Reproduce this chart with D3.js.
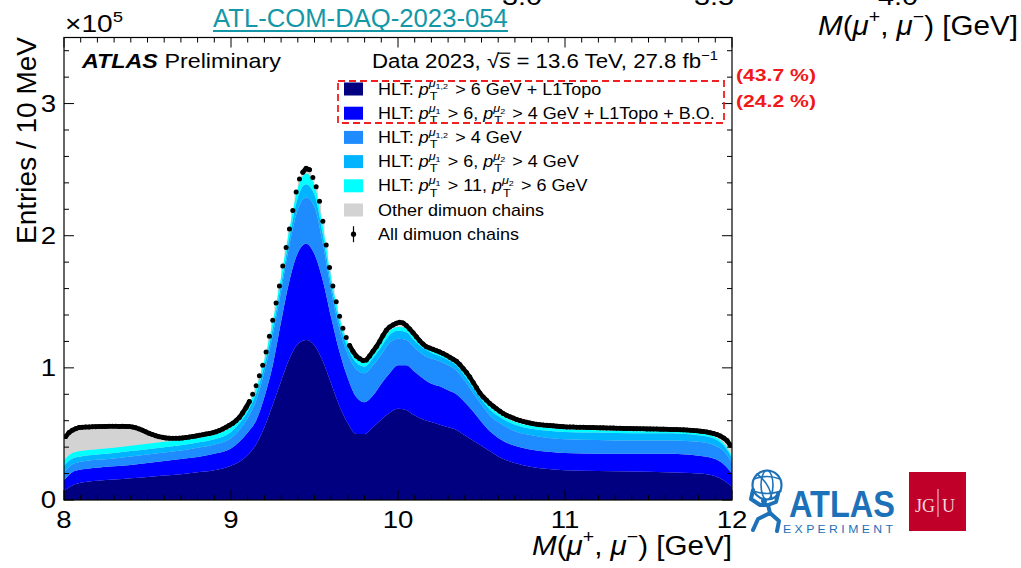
<!DOCTYPE html>
<html lang="en">
<head>
<meta charset="UTF-8">
<title>Dimuon invariant mass, HLT chains</title>
<script src="https://cdn.jsdelivr.net/npm/d3@7"></script>
<style>
  body { margin: 0; background: #fff; }
  svg { display: block; }
</style>
</head>
<body>
<div id="chart"></div>
<script>
// mass points for the stacked chains (GeV)
const massGrid = [8.0, 8.05, 8.1, 8.2, 8.3, 8.4, 8.5, 8.6, 8.7, 8.8, 8.9, 9.0, 9.05, 9.1, 9.15, 9.2, 9.25, 9.3, 9.35, 9.4,
  9.45, 9.5, 9.55, 9.6, 9.65, 9.7, 9.75, 9.8, 9.85, 9.9, 9.95, 10.0, 10.05, 10.1, 10.15, 10.2, 10.25, 10.3, 10.35, 10.4,
  10.45, 10.5, 10.55, 10.6, 10.7, 10.8, 10.9, 11.0, 11.2, 11.4, 11.6, 11.8, 11.9, 11.95, 12.0];

// entries per 10 MeV, in units of 1e5
const hltDi6L1Topo = [.07, .11, .13, .145, .155, .165, .175, .185, .195, .21, .225, .26, .29, .34, .42, .55, .72, .90, 1.07, 1.18,
  1.21, 1.17, 1.05, .88, .71, .58, .50, .50, .55, .61, .66, .69, .68, .64, .61, .59, .57, .55, .53, .49,
  .45, .41, .37, .33, .28, .25, .235, .225, .22, .215, .21, .20, .18, .15, .10];
const hltMu6Mu4L1TopoBO = [.08, .10, .10, .10, .10, .10, .105, .11, .115, .115, .125, .13, .15, .17, .18, .23, .30, .45, .59, .69,
  .73, .69, .61, .50, .41, .34, .28, .24, .24, .27, .30, .33, .34, .33, .31, .29, .29, .28, .27, .25,
  .22, .18, .15, .14, .13, .13, .13, .13, .13, .135, .14, .135, .13, .12, .10];
const hltDi4 = [.06, .06, .06, .06, .06, .065, .065, .065, .065, .07, .07, .08, .09, .11, .15, .19, .23, .23, .27, .33,
  .35, .36, .28, .20, .17, .18, .21, .22, .23, .22, .23, .20, .19, .18, .18, .19, .19, .19, .18, .16,
  .14, .13, .12, .12, .11, .11, .105, .105, .105, .10, .10, .105, .10, .10, .08];
const hltMu6Mu4 = [.05, .045, .04, .04, .04, .04, .04, .04, .04, .04, .04, .045, .05, .05, .055, .05, .05, .05, .06, .09,
  .10, .09, .07, .05, .05, .05, .05, .05, .055, .06, .06, .06, .06, .055, .05, .045, .04, .04, .04, .04,
  .04, .04, .045, .045, .05, .05, .055, .055, .055, .055, .055, .05, .05, .045, .04];
const hltMu11Mu6 = [.04, .04, .04, .04, .04, .04, .04, .04, .04, .035, .035, .035, .035, .035, .04, .04, .05, .06, .06, .07,
  .08, .07, .06, .05, .04, .035, .03, .03, .03, .03, .03, .03, .03, .03, .025, .025, .025, .025, .025, .025,
  .025, .025, .02, .02, .02, .02, .02, .02, .018, .016, .015, .015, .015, .015, .015];

// all dimuon chains, bins from 8.0 GeV, 20 MeV apart (units of 1e5)
const binStart = 8.0, binWidth = 0.02;
const allDimuon = [
  .48, .51, .528, .54, .548, .55, .552, .553, .554, .555,
  .556, .556, .557, .558, .558, .558, .557, .558, .557, .556,
  .552, .546, .538, .528, .516, .505, .495, .486, .479, .474,
  .47, .468, .467, .467, .468, .47, .473, .476, .48, .485,
  .49, .494, .499, .504, .509, .516, .526, .537, .55, .565,
  .58, .60, .625, .66, .70, .745, .80, .865, .94, 1.02,
  1.12, 1.24, 1.36, 1.49, 1.62, 1.77, 1.91, 2.05, 2.19, 2.33,
  2.43, 2.48, 2.51, 2.50, 2.44, 2.37, 2.26, 2.11, 1.93, 1.76,
  1.62, 1.50, 1.39, 1.30, 1.23, 1.17, 1.125, 1.09, 1.07, 1.055,
  1.06, 1.09, 1.125, 1.16, 1.20, 1.245, 1.285, 1.31, 1.325, 1.338,
  1.345, 1.34, 1.32, 1.295, 1.265, 1.235, 1.205, 1.18, 1.16, 1.15,
  1.14, 1.13, 1.12, 1.108, 1.095, 1.08, 1.065, 1.05, 1.025, .995,
  .965, .93, .89, .85, .81, .78, .755, .73, .71, .69,
  .672, .655, .641, .63, .62, .61, .602, .595, .588, .582,
  .577, .573, .57, .567, .565, .563, .561, .559, .557, .555,
  .553, .553, .552, .551, .551, .55, .549, .549, .548, .547,
  .546, .546, .545, .545, .544, .543, .543, .542, .541, .541,
  .54, .54, .539, .539, .538, .538, .537, .537, .536, .536,
  .535, .534, .534, .533, .532, .531, .53, .528, .526, .524,
  .521, .518, .514, .509, .503, .495, .485, .47, .45, .415];

const xTicks = [8, 9, 10, 11, 12];
const yTicks = [0, 1, 2, 3];
const chainKeys = ["di6L1Topo", "mu6mu4BO", "di4", "mu6mu4", "mu11mu6"];
const chainColors = ["#000080", "#0000ff", "#1e8cff", "#00b4ff", "#00ffff"];
const otherColor = "#d3d3d3";
const shareLabels = ["(43.7 %)", "(24.2 %)"];

const W = 1021, H = 568;
const font = '"Liberation Sans", Arial, Helvetica, sans-serif';
const svg = d3.select("#chart").append("svg")
  .attr("width", W).attr("height", H)
  .style("font-family", font);
svg.append("rect").attr("width", W).attr("height", H).attr("fill", "#fff");

const frame = { left: 64, right: 732, top: 37.5, bottom: 500 };
const x = d3.scaleLinear().domain([8, 12]).range([frame.left, frame.right]);
const y = d3.scaleLinear().domain([0, 3.5]).range([frame.bottom, frame.top]);

// rich text: pieces laid out one after another, then squeezed/stretched in x
function richText(parent, parts, size) {
  let cx = 0;
  const put = (str, px, py, fs, it, bold) => {
    const t = parent.append("text").attr("x", px).attr("y", py)
      .attr("font-size", fs).style("white-space", "pre").text(str);
    if (it) t.attr("font-style", "italic");
    if (bold) t.attr("font-weight", "bold");
    return t.node().getComputedTextLength();
  };
  parts.forEach(p => {
    if (typeof p === "string") p = { t: p };
    if (p.pt) {
      cx += put("p", cx, 0, size, true);
      const wT = put("T", cx + 1, size * 0.33, size * 0.7);
      const wMu = put("μ", cx, -size * 0.45, size * 0.7, true);
      const wIdx = put(p.pt, cx + wMu, -size * 0.32, size * 0.5);
      cx += Math.max(wT + 1, wMu + wIdx) + size * 0.12;
    } else if (p.sup) {
      cx += put(p.t, cx, -size * 0.42, size * 0.66, p.it);
    } else {
      const w = put(p.t, cx, 0, size, p.it, p.b);
      if (p.over) {
        parent.append("line").attr("x1", cx - size * 0.05).attr("x2", cx + w)
          .attr("y1", -size * 0.74).attr("y2", -size * 0.74)
          .attr("stroke", "#000").attr("stroke-width", size * 0.06);
      }
      cx += w;
    }
  });
  return cx;
}

function placeRich(px, py, parts, o) {
  const outer = svg.append("g").attr("fill", o.fill || "#000");
  const inner = outer.append("g");
  const w = richText(inner, parts, o.size);
  const sx = o.width ? o.width / w : (o.sx || 1);
  const x0 = o.anchor === "end" ? px - w * sx : o.anchor === "middle" ? px - w * sx / 2 : px;
  outer.attr("transform", `translate(${x0},${py})`);
  inner.attr("transform", `scale(${sx},1)`);
  return sx;
}

// ---- plot contents ----
const plot = svg.append("g");
plot.append("clipPath").attr("id", "frameClip").append("rect")
  .attr("x", frame.left).attr("y", frame.top)
  .attr("width", frame.right - frame.left).attr("height", frame.bottom - frame.top);
const inside = plot.append("g").attr("clip-path", "url(#frameClip)");

// other chains: everything under the full data histogram, colours go on top
const histPts = allDimuon.flatMap((v, i) => {
  const lo = binStart + i * binWidth;
  return [[lo, v], [lo + binWidth, v]];
});
inside.append("path")
  .attr("d", d3.area().x(d => x(d[0])).y0(y(0)).y1(d => y(d[1]))(histPts))
  .attr("fill", otherColor);

const rows = massGrid.map((m, i) => ({
  m,
  di6L1Topo: hltDi6L1Topo[i],
  mu6mu4BO: hltMu6Mu4L1TopoBO[i],
  di4: hltDi4[i],
  mu6mu4: hltMu6Mu4[i],
  mu11mu6: hltMu11Mu6[i]
}));
const stacked = d3.stack().keys(chainKeys)(rows);
const area = d3.area()
  .x(d => x(d.data.m)).y0(d => y(d[0])).y1(d => y(d[1]))
  .curve(d3.curveMonotoneX);
inside.selectAll(".layer").data(stacked).enter().append("path")
  .attr("class", "layer")
  .attr("d", area)
  .attr("fill", (d, i) => chainColors[i]);

// data markers: where neighbouring markers touch they merge into a thick line
const pts = allDimuon.map((v, i) => [x(binStart + (i + 0.5) * binWidth), y(v)]);
let merged = "";
pts.forEach((p, i) => {
  if (i === 0) return;
  const q = pts[i - 1];
  if (Math.hypot(p[0] - q[0], p[1] - q[1]) < 7) merged += `M${q[0]},${q[1]}L${p[0]},${p[1]}`;
});
inside.append("path").attr("d", merged)
  .attr("stroke", "#000").attr("stroke-width", 4.6).attr("stroke-linecap", "round").attr("fill", "none");
inside.selectAll(".pt").data(pts).enter().append("circle")
  .attr("class", "pt")
  .attr("cx", d => d[0])
  .attr("cy", d => d[1])
  .attr("r", 2.5)
  .attr("fill", "#000");

// ---- frame and ticks ----
const ticks = svg.append("g").attr("stroke", "#000").attr("stroke-width", 1);
d3.range(80, 121).forEach(k => {
  const v = k / 10, len = k % 10 === 0 ? 10 : 5;
  ticks.append("line").attr("x1", x(v)).attr("x2", x(v)).attr("y1", frame.bottom).attr("y2", frame.bottom - len);
  ticks.append("line").attr("x1", x(v)).attr("x2", x(v)).attr("y1", frame.top).attr("y2", frame.top + len);
});
d3.range(0, 18).forEach(k => {
  const v = k / 5, len = k % 5 === 0 ? 10 : 5;
  ticks.append("line").attr("x1", frame.left).attr("x2", frame.left + len).attr("y1", y(v)).attr("y2", y(v));
  ticks.append("line").attr("x1", frame.right).attr("x2", frame.right - len).attr("y1", y(v)).attr("y2", y(v));
});
svg.append("rect")
  .attr("x", frame.left).attr("y", frame.top)
  .attr("width", frame.right - frame.left).attr("height", frame.bottom - frame.top)
  .attr("fill", "none").attr("stroke", "#000").attr("stroke-width", 1.2);

xTicks.forEach(v => placeRich(x(v), 528, [String(v)], { size: 23, sx: 1.2, anchor: "middle" }));
yTicks.forEach(v => placeRich(56, y(v) + 8.3, [String(v)], { size: 23, sx: 1.2, anchor: "end" }));
placeRich(65, 32, ["×10", { t: "5", sup: true }], { size: 23, width: 58 });

const mu = [{ t: "M", it: true }, "(", { t: "μ", it: true }, { t: "+", sup: true }, ", ",
  { t: "μ", it: true }, { t: "−", sup: true }, ") [GeV]"];
placeRich(732, 555, mu, { size: 28, width: 200, anchor: "end" });

svg.append("text")
  .attr("transform", "translate(36,37) rotate(-90)")
  .attr("text-anchor", "end").attr("font-size", 28)
  .text("Entries / 10 MeV");

// ---- labels inside frame ----
placeRich(82, 68, [{ t: "ATLAS", it: true, b: true }, " Preliminary"], { size: 20, width: 199 });
placeRich(372, 68, ["Data 2023, ", "√", { t: "s", it: true, over: true }, " = 13.6 TeV, 27.8 fb", { t: "−1", sup: true }],
  { size: 20, width: 346 });

// ---- legend ----
const legendParts = [
  ["HLT: ", { pt: "1,2" }, " > 6 GeV + L1Topo"],
  ["HLT: ", { pt: "1" }, " > 6, ", { pt: "2" }, " > 4 GeV + L1Topo + B.O."],
  ["HLT: ", { pt: "1,2" }, " > 4 GeV"],
  ["HLT: ", { pt: "1" }, " > 6, ", { pt: "2" }, " > 4 GeV"],
  ["HLT: ", { pt: "1" }, " > 11, ", { pt: "2" }, " > 6 GeV"],
  ["Other dimuon chains"],
  ["All dimuon chains"]
];
const legendFills = chainColors.concat([otherColor, null]);
const rowY = i => 89 + i * 24.2;
const legSx = placeRich(378, rowY(5) + 5.6, legendParts[5], { size: 16, width: 166 });
legendParts.forEach((parts, i) => {
  if (i !== 5) placeRich(378, rowY(i) + 5.6, parts, { size: 16, sx: legSx });
  if (legendFills[i]) {
    svg.append("rect").attr("x", 344).attr("y", rowY(i) - 6.5).attr("width", 19).attr("height", 13)
      .attr("fill", legendFills[i]);
  } else {
    svg.append("line").attr("x1", 353.5).attr("x2", 353.5).attr("y1", rowY(i) - 8).attr("y2", rowY(i) + 8)
      .attr("stroke", "#000").attr("stroke-width", 1.2);
    svg.append("circle").attr("cx", 353.5).attr("cy", rowY(i)).attr("r", 2.6).attr("fill", "#000");
  }
});

svg.append("rect").attr("x", 338).attr("y", 81).attr("width", 386).attr("height", 42)
  .attr("fill", "none").attr("stroke", "#f02020").attr("stroke-width", 1.8)
  .attr("stroke-dasharray", "7,4");
shareLabels.forEach((s, i) => placeRich(736, 81 + i * 26, [{ t: s, b: true }], { size: 17, width: 80, fill: "#f01818" }));

// ---- slide decorations ----
const linkColor = "#1497a6";
placeRich(213, 27, ["ATL-COM-DAQ-2023-054"], { size: 25, width: 295, fill: linkColor });
svg.append("line").attr("x1", 213).attr("x2", 508).attr("y1", 31).attr("y2", 31)
  .attr("stroke", linkColor).attr("stroke-width", 2);

// remnants of the plot above (cut by the slide edge)
[["3.0", 522], ["3.5", 714], ["4.0", 898]].forEach(([s, px]) =>
  placeRich(px, 5, [s], { size: 24, sx: 1.2, anchor: "middle" }));
placeRich(818, 35, mu, { size: 28, width: 200 });

// ATLAS experiment logo
const logoBlue = "#1d71b8";
const logo = svg.append("g").attr("stroke", logoBlue).attr("fill", "none").attr("stroke-linecap", "round");
logo.append("circle").attr("cx", 767).attr("cy", 485).attr("r", 14.5).attr("stroke-width", 2.2).attr("fill", "#fff");
logo.append("ellipse").attr("cx", 767).attr("cy", 485).attr("rx", 6).attr("ry", 14.5).attr("stroke-width", 1.6);
logo.append("path").attr("d", "M754,479 Q767,474 780,479 M753,491 Q767,496 781,491 M757,474 Q770,484 772,499")
  .attr("stroke-width", 1.6);
logo.append("path")
  .attr("d", "M753,490 L751,499 L760,505 M778,494 L776,502 L768,505 M760,505 L768,505 L770,513 L758,519 L753,530 M770,513 L779,521 L777,531")
  .attr("stroke-width", 4).attr("stroke-linejoin", "round");
logo.append("circle").attr("cx", 764).attr("cy", 501).attr("r", 3).attr("fill", logoBlue).attr("stroke", "none");
placeRich(789, 517, [{ t: "ATLAS", b: true }], { size: 36, width: 106, fill: logoBlue });
placeRich(783, 533, [{ t: "E X P E R I M E N T" }], { size: 10.5, width: 110, fill: logoBlue });

// JGU logo
svg.append("rect").attr("x", 909).attr("y", 472).attr("width", 57).attr("height", 59).attr("fill", "#c1002a");
svg.append("text").attr("x", 915).attr("y", 512).attr("font-size", 18)
  .attr("font-family", '"Liberation Serif", "DejaVu Serif", serif').attr("fill", "#f4d6dc").text("JG");
svg.append("text").attr("x", 942).attr("y", 512).attr("font-size", 18)
  .attr("font-family", '"Liberation Serif", "DejaVu Serif", serif').attr("fill", "#f4d6dc").text("U");
svg.append("line").attr("x1", 938).attr("x2", 938).attr("y1", 489).attr("y2", 517)
  .attr("stroke", "#f4d6dc").attr("stroke-width", 1);
</script>
</body>
</html>
